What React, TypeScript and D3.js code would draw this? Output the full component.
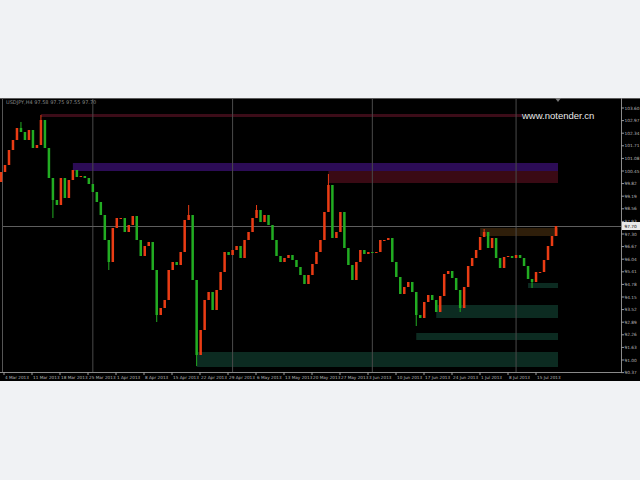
import React from 'react';
import * as d3 from 'd3';

// closing prices, one per candle (left to right)
const closes = [
  100.40, 100.75, 101.50, 102.00, 102.60, 102.40, 102.00, 102.50, 101.60, 101.75,
  103.00, 101.60, 100.10, 99.00, 98.75, 100.10, 99.10, 100.00, 100.50, 100.15,
  100.20, 100.10, 99.80, 99.40, 98.90, 98.25, 97.00, 95.90, 97.60, 98.10,
  98.10, 97.40, 97.75, 98.20, 97.00, 96.20, 96.70, 96.90, 95.50, 93.25,
  93.60, 94.00, 95.50, 95.90, 95.75, 96.40, 98.00, 98.25, 95.00, 91.25,
  92.50, 94.00, 94.40, 93.50, 94.50, 95.40, 96.40, 96.25, 96.50, 96.70,
  96.10, 97.00, 97.40, 98.10, 98.50, 97.90, 98.25, 97.75, 97.00, 96.20,
  95.90, 96.10, 96.25, 96.00, 95.65, 95.25, 94.80, 95.25, 95.80, 96.40,
  97.00, 98.40, 99.75, 97.10, 97.40, 98.40, 96.60, 95.75, 95.00, 95.90,
  96.50, 96.30, 96.40, 96.35, 96.40, 97.00, 97.00, 97.10, 95.90, 95.15,
  94.30, 94.65, 94.90, 94.40, 93.25, 93.10, 93.90, 94.25, 94.00, 93.40,
  94.20, 95.30, 95.45, 95.10, 94.50, 93.60, 94.65, 95.70, 96.10, 96.50,
  97.15, 97.40, 96.60, 97.10, 96.10, 95.60, 96.15, 96.20, 96.10, 96.25,
  96.10, 95.70, 95.05, 94.90, 95.40, 95.40, 96.00, 96.70, 97.20, 97.70,
];
const firstOpen = 99.90;

// notable wick extremes
const wickIdx = [5, 10, 13, 27, 39, 47, 49, 64, 82, 104, 115, 121, 133];
const wickPrice = [102.90, 103.25, 98.10, 95.50, 92.90, 98.75, 90.70, 98.75, 100.30, 92.70, 93.40, 97.55, 94.60];

// supply / demand zones
const zoneTop = [103.30, 100.85, 100.45, 97.60, 94.85, 93.75, 92.35, 91.40];
const zoneBottom = [103.15, 100.45, 99.85, 97.20, 94.60, 93.10, 92.00, 90.65];
const zoneStart = [10, 18, 82, 120, 132, 109, 104, 49];
const zoneEnd = [130, 139, 139, 139, 139, 139, 139, 139];
const zoneColors = ['#3c0c18', '#2c0c56', '#3a0a14', '#2e1e0a', '#0c2b21', '#0c2b21', '#0c2b21', '#0c2b21'];

// vertical grid separators (candle index)
const gridIdx = [23, 58, 93, 129];

// price axis labels
const priceTicks = [
  103.60, 102.97, 102.34, 101.71, 101.08, 100.45, 99.82, 99.19, 98.56, 97.93, 97.30,
  96.67, 96.04, 95.41, 94.78, 94.15, 93.52, 92.89, 92.26, 91.63, 91.00, 90.37,
];

// time axis labels
const dateLabels = [
  '4 Mar 2013', '11 Mar 2013', '18 Mar 2013', '25 Mar 2013', '1 Apr 2013', '8 Apr 2013', '15 Apr 2013',
  '22 Apr 2013', '29 Apr 2013', '6 May 2013', '13 May 2013', '20 May 2013', '27 May 2013', '3 Jun 2013',
  '10 Jun 2013', '17 Jun 2013', '24 Jun 2013', '1 Jul 2013', '8 Jul 2013', '15 Jul 2013',
];

const infoText = 'USDJPY,H4  97.58 97.75 97.55 97.70';
const watermark = 'www.notender.cn';

export default function App() {
  const W = 640;
  const H = 480;
  const top = 98;
  const bottom = 381;
  const plotBottom = 372;
  const axisX = 621;

  const x = d3.scaleLinear().domain([0, closes.length - 1]).range([1, 556]);
  const y = d3.scaleLinear().domain([90.4, 104.0]).range([plotBottom, 100]);

  const candles = closes.map((c, i) => {
    const o = i === 0 ? firstOpen : closes[i - 1];
    let hi = Math.max(o, c);
    let lo = Math.min(o, c);
    const k = wickIdx.indexOf(i);
    if (k >= 0) {
      hi = Math.max(hi, wickPrice[k]);
      lo = Math.min(lo, wickPrice[k]);
    }
    return { i, o, c, hi, lo, up: c >= o };
  });

  const last = closes[closes.length - 1];
  const upColor = '#ea3c14';
  const downColor = '#22ac22';

  return (
    <svg
      width={W}
      height={H}
      style={{ position: 'absolute', left: 0, top: 0, display: 'block' }}
      fontFamily="'DejaVu Sans', sans-serif"
    >
      <rect x={0} y={0} width={W} height={H} fill="#f0f2f4" />
      <rect x={0} y={top} width={W} height={bottom - top} fill="#000" />

      {/* frame */}
      <line x1={0} x2={W} y1={top + 0.5} y2={top + 0.5} stroke="#5a5a5a" />
      <line x1={2.5} x2={2.5} y1={top} y2={plotBottom} stroke="#555" />
      <line x1={axisX + 0.5} x2={axisX + 0.5} y1={top} y2={plotBottom} stroke="#8a8a8a" />
      <line x1={0} x2={axisX + 1} y1={plotBottom + 0.5} y2={plotBottom + 0.5} stroke="#8a8a8a" />

      {/* zones */}
      {zoneTop.map((t, k) => (
        <rect
          key={'z' + k}
          x={x(zoneStart[k])}
          y={y(t)}
          width={x(zoneEnd[k]) + 2 - x(zoneStart[k])}
          height={y(zoneBottom[k]) - y(t)}
          fill={zoneColors[k]}
        />
      ))}

      {/* grid */}
      {gridIdx.map((g) => (
        <line key={'g' + g} x1={x(g)} x2={x(g)} y1={top + 1} y2={plotBottom} stroke="#4a4a4a" strokeWidth={1} />
      ))}
      <line x1={3} x2={axisX} y1={Math.round(y(last)) + 0.5} y2={Math.round(y(last)) + 0.5} stroke="#5e5e5e" />

      {/* candles */}
      {candles.map((d) => {
        const col = d.up ? upColor : downColor;
        const yt = y(Math.max(d.o, d.c));
        const yb = y(Math.min(d.o, d.c));
        return (
          <g key={'c' + d.i}>
            <line x1={x(d.i)} x2={x(d.i)} y1={y(d.hi)} y2={y(d.lo)} stroke={col} strokeWidth={1} />
            <rect x={x(d.i) - 1.25} y={yt} width={2.5} height={Math.max(1, yb - yt)} fill={col} />
          </g>
        );
      })}

      {/* watermark & info */}
      <text x={522} y={119} fontSize={9.5} fill="#e8e8e8" fontFamily="'Liberation Sans', Arial, sans-serif">
        {watermark}
      </text>
      <text x={6} y={104} fontSize={5} fill="#8a8a8a">
        {infoText}
      </text>
      <path d="M555,98 L561,98 L558,102 Z" fill="#777" />

      {/* price axis */}
      {priceTicks.map((p) => (
        <g key={'p' + p}>
          <line x1={axisX} x2={axisX + 3} y1={y(p)} y2={y(p)} stroke="#9a9a9a" />
          <text x={axisX + 3.5} y={y(p) + 1.6} fontSize={4.3} fill="#b8b8b8">
            {p.toFixed(2)}
          </text>
        </g>
      ))}
      <rect x={axisX + 1} y={y(last) - 4} width={W - axisX - 1} height={8} fill="#e8e8e8" />
      <text x={axisX + 3.5} y={y(last) + 1.6} fontSize={4.3} fill="#000">
        {last.toFixed(2)}
      </text>

      {/* time axis */}
      {dateLabels.map((d, k) => (
        <g key={'d' + k}>
          <line x1={4 + k * 28} x2={4 + k * 28} y1={plotBottom} y2={plotBottom + 3} stroke="#9a9a9a" />
          <text x={5 + k * 28} y={379} fontSize={4.2} fill="#b8b8b8">
            {d}
          </text>
        </g>
      ))}
    </svg>
  );
}
